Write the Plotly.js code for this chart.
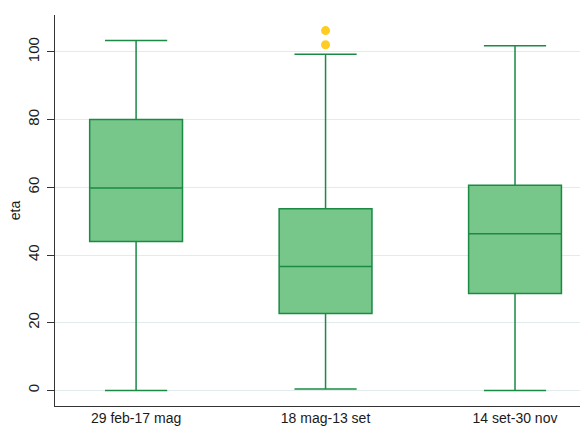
<!DOCTYPE html>
<html><head><meta charset="utf-8">
<script src="https://cdn.plot.ly/plotly-3.0.1.min.js"></script>
<style>html,body{margin:0;padding:0;background:#fff}#chart{width:580px;height:427px}</style>
</head><body><div id="chart"></div>
<script>
const categories = ["29 feb-17 mag", "18 mag-13 set", "14 set-30 nov"];
const lowerFence = [0, 0.4, 0];
const q1 = [44, 22.7, 28.6];
const median = [59.8, 36.6, 46.3];
const q3 = [80, 53.7, 60.6];
const upperFence = [103.4, 99.3, 101.8];
const outlierCats = ["18 mag-13 set", "18 mag-13 set"];
const outlierVals = [106.3, 102.1];
const yTicks = [0, 20, 40, 60, 80, 100];

const traces = [
  {
    type: "box",
    x: categories,
    q1: q1, median: median, q3: q3,
    lowerfence: lowerFence, upperfence: upperFence,
    boxpoints: false,
    fillcolor: "#78c78a",
    line: {color: "#1a8a45", width: 1.5},
    whiskerwidth: 0.67,
    width: 0.49,
    hoverinfo: "skip",
    showlegend: false
  },
  {
    type: "scatter", mode: "markers",
    x: outlierCats, y: outlierVals,
    marker: {color: "#ffcc22", size: 9},
    showlegend: false
  }
];

const layout = {
  width: 580, height: 427,
  margin: {l: 55, r: 0, t: 15, b: 21},
  paper_bgcolor: "#fff", plot_bgcolor: "#fff",
  font: {family: "Liberation Sans, Arial, sans-serif", size: 15, color: "#1a1a1a"},
  xaxis: {
    type: "category", range: [-0.428, 2.343],
    showline: true, linecolor: "#333", linewidth: 1,
    showgrid: false, ticks: "", tickfont: {size: 14}, zeroline: false,
    ticklabelstandoff: -1
  },
  yaxis: {
    range: [-4.6, 110.9],
    tickvals: yTicks, ticktext: yTicks.map(String),
    tickangle: -90,
    showline: true, linecolor: "#333", linewidth: 1,
    ticks: "outside", ticklen: 7, tickcolor: "#333",
    ticklabelstandoff: 2,
    gridcolor: "#e3ecec", gridwidth: 1, zeroline: false,
    tickfont: {size: 15},
    title: {text: "eta", font: {size: 14}, standoff: 1}
  }
};
Plotly.newPlot("chart", traces, layout, {displayModeBar: false, staticPlot: true});
</script></body></html>
